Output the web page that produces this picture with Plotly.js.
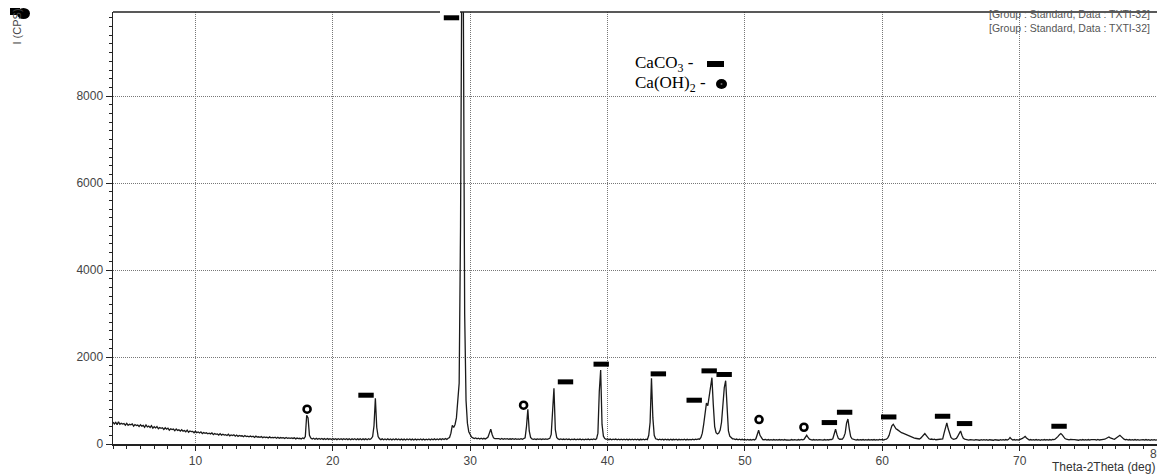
<!DOCTYPE html>
<html><head><meta charset="utf-8">
<script src="https://cdn.plot.ly/plotly-3.0.1.min.js"></script>
<style>html,body{margin:0;padding:0;background:#fff;overflow:hidden}#chart{width:1157px;height:474px}</style>
</head><body><div id="chart"></div>
<script>
// Scan grid (2-theta, deg)
const scanStart = 4.0;
const scanStep = 0.1;
// Intensity (CPS), one row per degree
const intensity = [
 505,462,498,446,510,452,478,458,470,434, // 4
 476,428,452,440,462,410,448,425,436,402, // 5
 444,410,428,386,438,392,412,380,420,366, // 6
 398,370,402,350,380,362,374,336,372,340, // 7
 366,318,350,330,342,304,346,312,326,296, // 8
 328,296,312,280,318,270,300,284,290,258, // 9
 292,262,276,254,280,240,266,246,258,236, // 10
 250,232,254,214,240,222,232,206,238,204, // 11
 226,204,216,196,224,186,208,194,212,180, // 12
 206,176,198,184,190,168,196,170,182,166, // 13
 182,164,178,152,180,158,166,154,170,146, // 14
 164,150,158,140,164,142,150,144,156,134, // 15
 156,132,148,138,146,126,150,130,140,128, // 16
 140,128,142,118,136,124,132,116,138,124, // 17
 170,660,600,200,135,114,132,110,130,108, // 18
 128,108,126,106,124,104,126,106,122,104, // 19
 124,102,122,100,120,104,122,100,120,102, // 20
 122,100,120,98,118,102,120,98,118,100, // 21
 120,98,118,100,122,98,120,102,124,170, // 22
 420,1050,380,170,122,100,118,96,116,98, // 23
 118,96,116,94,114,98,118,96,116,94, // 24
 114,94,112,92,116,96,114,94,112,92, // 25
 114,94,112,96,116,94,114,92,112,96, // 26
 116,94,114,96,118,98,116,96,120,100, // 27
 122,102,126,106,132,150,250,430,380,450, // 28
 600,1000,1400,5000,11500,10500,3000,1000,480,280, // 29
 200,160,142,124,138,118,134,116,132,114, // 30
 130,114,134,160,250,340,220,140,122,124, // 31
 116,124,110,126,108,124,112,122,108,120, // 32
 110,122,108,120,106,118,108,122,110,120, // 33
 140,400,800,300,150,116,106,118,104,116, // 34
 106,118,104,116,106,118,108,120,130,220, // 35
 700,1280,330,150,118,104,116,100,114,102, // 36
 116,100,114,98,112,100,114,98,112,100, // 37
 114,98,112,96,110,100,114,98,112,100, // 38
 116,102,120,250,1200,1700,450,180,126,108, // 39
 118,100,114,98,112,100,114,98,112,96, // 40
 112,98,110,96,112,94,110,98,112,96, // 41
 110,96,112,94,108,98,112,96,110,100, // 42
 200,500,1510,600,200,120,112,98,110,96, // 43
 112,94,110,96,108,92,110,94,108,96, // 44
 110,92,108,94,106,96,110,92,108,94, // 45
 106,94,110,96,112,100,116,110,150,250, // 46
 450,750,940,880,1100,1400,1525,900,400,260, // 47
 230,250,320,500,900,1300,1455,700,300,180, // 48
 140,120,116,102,114,98,110,96,108,94, // 49
 106,92,104,90,102,92,106,94,120,200, // 50
 316,200,130,100,98,104,90,102,88,100, // 51
 90,102,88,100,90,102,92,100,88,102, // 52
 92,88,100,90,102,88,100,92,90,102, // 53
 92,104,94,106,160,200,150,110,100,90, // 54
 102,88,100,90,102,92,100,88,102,90, // 55
 100,92,106,100,120,230,340,220,130,110, // 56
 104,112,160,250,480,575,350,170,120,104, // 57
 100,90,102,88,100,92,102,90,100,88, // 58
 102,90,100,92,102,88,100,90,106,96, // 59
 104,92,108,110,140,200,320,420,455,400, // 60
 350,330,300,290,260,250,235,220,200,190, // 61
 176,160,150,140,132,126,120,116,135,170, // 62
 210,240,200,150,120,106,114,100,112,98, // 63
 102,110,100,114,118,250,400,485,350,220, // 64
 150,120,110,118,130,180,260,300,200,130, // 65
 112,100,100,90,102,92,96,88,100,90, // 66
 94,86,100,90,98,88,100,86,98,90, // 67
 92,86,98,88,96,86,98,88,100,90, // 68
 102,92,108,150,112,92,102,90,100,88, // 69
 102,110,130,150,175,140,112,92,102,90, // 70
 100,88,102,90,98,86,100,90,102,92, // 71
 100,88,102,92,106,100,115,140,175,215, // 72
 240,210,160,125,112,98,94,106,96,100, // 73
 102,92,96,86,98,88,102,88,100,90, // 74
 102,90,100,104,92,102,90,104,92,102, // 75
 96,106,110,130,150,160,140,120,118,110, // 76
 130,160,190,200,170,130,112,98,106,92, // 77
 102,90,100,88,102,90,100,88,98,90, // 78
 100,88,102,90,100,86,98,88,100,90, // 79
 96 // 80
];
// Phase identification marks (angle, height of mark)
const calciteAngles = [22.42, 28.64, 36.94, 39.54, 43.70, 46.31, 47.40, 48.49, 56.15, 57.26, 60.47, 64.39, 65.99, 72.87];
const calciteLevels = [1122, 9802, 1429, 1836, 1613, 1007, 1682, 1599, 493, 730, 622, 638, 470, 408];
const portlanditeAngles = [18.13, 33.89, 51.03, 54.30];
const portlanditeLevels = [800, 892, 562, 385];
// Axis ticks
const xTickVals = [10, 20, 30, 40, 50, 60, 70, 80];
const xTickText = ['10', '20', '30', '40', '50', '60', '70', '80'];
const yTickVals = [0, 2000, 4000, 6000, 8000];
const yTickText = ['0', '2000', '4000', '6000', '8000'];
const legendLabels = ['CaCO<sub>3</sub> -', 'Ca(OH)<sub>2</sub> -'];
const headerLines = ['[Group : Standard, Data : TXTI-32]', '[Group : Standard, Data : TXTI-32]'];

const twoTheta = intensity.map((_, i) => +(scanStart + i * scanStep).toFixed(2));

const W = 1157, H = 474, ML = 113, MT = 12, MB = 30;
const PW = W - ML, PH = H - MT - MB;
const px = v => (v - ML) / PW;
const py = v => (H - MB - v) / PH;

const sans = 'Liberation Sans, Arial, sans-serif';
const serif = 'Liberation Serif, Times New Roman, serif';

const traces = [
  {x: twoTheta, y: intensity, mode: 'lines', line: {color: '#1a1a1a', width: 1.3}, hoverinfo: 'skip'},
  {x: calciteAngles, y: calciteLevels, mode: 'markers', cliponaxis: false,
   marker: {symbol: 'line-ew', size: 11, color: '#000', line: {width: 5, color: '#000'}}},
  {x: portlanditeAngles, y: portlanditeLevels, mode: 'markers', cliponaxis: false,
   marker: {symbol: 'circle', size: 7, color: '#fff', line: {width: 2.6, color: '#000'}}}
];

const axisCommon = {
  ticks: 'outside', tickcolor: '#222', tickwidth: 1,
  showline: true, linecolor: '#222', linewidth: 1.5,
  showgrid: true, gridcolor: '#777', griddash: '1px,1px', gridwidth: 1,
  zeroline: false, tickfont: {family: sans, size: 12, color: '#444'}
};

const layout = {
  width: W, height: H,
  margin: {l: ML, r: 0, t: MT, b: MB, pad: 0},
  paper_bgcolor: '#fff', plot_bgcolor: '#fff',
  showlegend: false,
  xaxis: Object.assign({}, axisCommon, {
    range: [4, 80], tickmode: 'array', tickvals: xTickVals, ticktext: xTickText, ticklen: 5,
    minor: {dtick: 1, tick0: 0, ticks: 'outside', ticklen: 3, tickcolor: '#222', showgrid: false}
  }),
  yaxis: Object.assign({}, axisCommon, {
    range: [0, 9935], tickmode: 'array', tickvals: yTickVals, ticktext: yTickText, ticklen: 6,
    minor: {dtick: 200, tick0: 0, ticks: 'outside', ticklen: 3, tickcolor: '#222', showgrid: false}
  }),
  shapes: [
    {type: 'line', xref: 'paper', yref: 'paper', x0: 0, x1: px(440), y0: 1, y1: 1, line: {color: '#222', width: 1.5}},
    {type: 'line', xref: 'paper', yref: 'paper', x0: px(460), x1: 1, y0: 1, y1: 1, line: {color: '#222', width: 1.5}},
    {type: 'rect', xref: 'paper', yref: 'y', layer: 'between', x0: px(593), x1: px(615), y0: 1950, y1: 2050, line: {width: 0}, fillcolor: '#fff'},
    {type: 'rect', xref: 'paper', yref: 'paper', x0: px(707), x1: px(724), y0: py(67), y1: py(61), line: {width: 0}, fillcolor: '#000'},
    {type: 'circle', xref: 'paper', yref: 'paper', x0: px(716), x1: px(727), y0: py(89), y1: py(79), line: {width: 0}, fillcolor: '#000'},
    {type: 'circle', xref: 'paper', yref: 'paper', x0: px(720.5), x1: px(722.5), y0: py(85), y1: py(83), line: {width: 0}, fillcolor: '#666'},
    {type: 'rect', xref: 'paper', yref: 'paper', x0: px(10), x1: px(20), y0: py(15), y1: py(8), line: {width: 0}, fillcolor: '#000'},
    {type: 'circle', xref: 'paper', yref: 'paper', x0: px(17), x1: px(30), y0: py(19), y1: py(8), line: {width: 0}, fillcolor: '#000'}
  ],
  annotations: [
    {text: 'I (CPS)', xref: 'paper', yref: 'paper', x: px(16.5), y: py(27), textangle: -90, showarrow: false,
     xanchor: 'center', yanchor: 'middle', font: {family: sans, size: 11, color: '#444'}},
    {text: xTickText[xTickText.length - 1], xref: 'x', yref: 'paper', x: xTickVals[xTickVals.length - 1], y: py(454), showarrow: false,
     xanchor: 'center', yanchor: 'middle', font: {family: sans, size: 12, color: '#444'}},
    {text: 'Theta-2Theta (deg)', xref: 'paper', yref: 'paper', x: 1, y: py(467), showarrow: false,
     xanchor: 'right', yanchor: 'middle', font: {family: sans, size: 12, color: '#333'}},
    {text: headerLines.join('<br>'), xref: 'paper', yref: 'paper', x: px(1151), y: py(20.5), showarrow: false, borderpad: 0,
     xanchor: 'right', yanchor: 'middle', align: 'right', font: {family: sans, size: 10.5, color: '#555'}},
    {text: legendLabels[0], xref: 'paper', yref: 'paper', x: px(633), y: py(64), showarrow: false,
     xanchor: 'left', yanchor: 'middle', font: {family: serif, size: 17, color: '#000'}},
    {text: legendLabels[1], xref: 'paper', yref: 'paper', x: px(633), y: py(84), showarrow: false,
     xanchor: 'left', yanchor: 'middle', font: {family: serif, size: 17, color: '#000'}}
  ]
};

Plotly.newPlot('chart', traces, layout, {staticPlot: true, displayModeBar: false});
</script>
</body></html>
